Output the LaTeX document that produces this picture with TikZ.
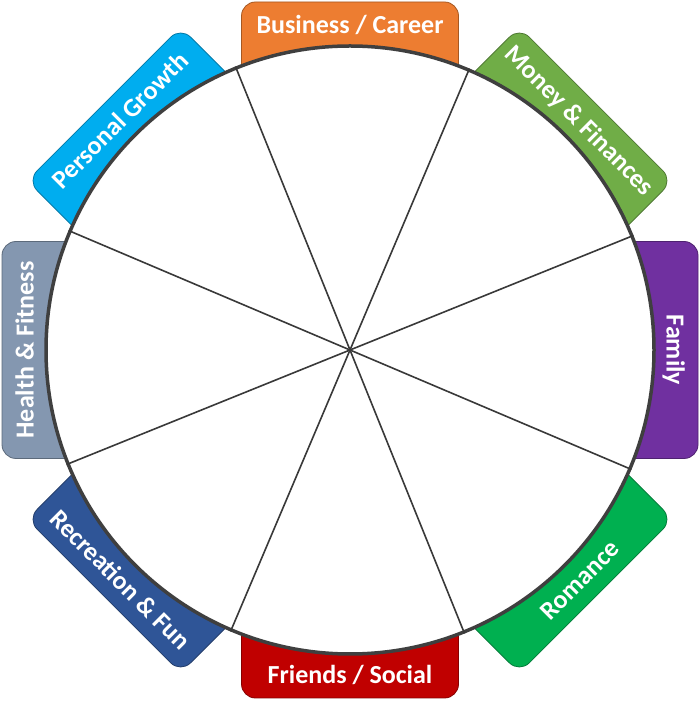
\documentclass[tikz,border=0pt]{standalone}
\usepackage{fontspec}
\setmainfont{Carlito}
\usetikzlibrary{calc}
\definecolor{cBus}{HTML}{ED7D31}
\definecolor{cMon}{HTML}{70AD47}
\definecolor{cFam}{HTML}{7030A0}
\definecolor{cRom}{HTML}{00B050}
\definecolor{cFri}{HTML}{C00000}
\definecolor{cRec}{HTML}{2F5597}
\definecolor{cHea}{HTML}{8497B0}
\definecolor{cPer}{HTML}{00ADEF}
\definecolor{rim}{HTML}{3F3F3F}
\begin{document}
\begin{tikzpicture}[x=1pt,y=1pt,
  tab/.style={rectangle, draw=#1!70!black, line width=0.8pt, fill=#1,
    rounded corners=14pt, minimum width=217pt, minimum height=100pt, inner sep=0pt},
  lbl/.style={text=white, font=\bfseries\fontsize{26}{30}\selectfont,
    inner sep=0pt, text height=17pt, text depth=0pt, anchor=center},
  wheel/.style={circle, draw=rim, line width=3.5pt, fill=white, minimum size=608pt, inner sep=0pt},
  spoke/.style={draw=rim!90!black, line width=1.6pt}]
\useasboundingbox (0,0) rectangle (700,707);
\coordinate (C) at (350,357);
% tabs
\node[tab=cBus, rotate=0]   (tBus) at ($(C)+(90:298)$)  {};
\node[tab=cMon, rotate=-45] (tMon) at ($(C)+(45:298)$)  {};
\node[tab=cFam, rotate=-90] (tFam) at ($(C)+(0:298)$)   {};
\node[tab=cRom, rotate=45]  (tRom) at ($(C)+(-45:298)$) {};
\node[tab=cFri, rotate=0]   (tFri) at ($(C)+(-90:298)$) {};
\node[tab=cRec, rotate=-45] (tRec) at ($(C)+(-135:298)$) {};
\node[tab=cHea, rotate=90]  (tHea) at ($(C)+(180:298)$) {};
\node[tab=cPer, rotate=45]  (tPer) at ($(C)+(135:298)$) {};
% wheel
\node[wheel] (W) at (C) {};
% spokes
\draw[spoke] (W.22.5) -- (W.202.5);
\draw[spoke] (W.67.5) -- (W.247.5);
\draw[spoke] (W.112.5) -- (W.292.5);
\draw[spoke] (W.157.5) -- (W.337.5);
% labels
\node[lbl, rotate=0]   (lBus) at ($(C)+(90:325)$)  {Business / Career};
\node[lbl, rotate=-45] (lMon) at ($(C)+(45:325)$)  {Money \& Finances};
\node[lbl, rotate=-90] (lFam) at ($(C)+(0:325)$)   {Family};
\node[lbl, rotate=45]  (lRom) at ($(C)+(-45:325)$) {Romance};
\node[lbl, rotate=0]   (lFri) at ($(C)+(-90:325)$) {Friends / Social};
\node[lbl, rotate=-45] (lRec) at ($(C)+(-135:325)$) {Recreation \& Fun};
\node[lbl, rotate=90]  (lHea) at ($(C)+(180:325)$) {Health \& Fitness};
\node[lbl, rotate=45]  (lPer) at ($(C)+(135:325)$) {Personal Growth};
\end{tikzpicture}
\end{document}
